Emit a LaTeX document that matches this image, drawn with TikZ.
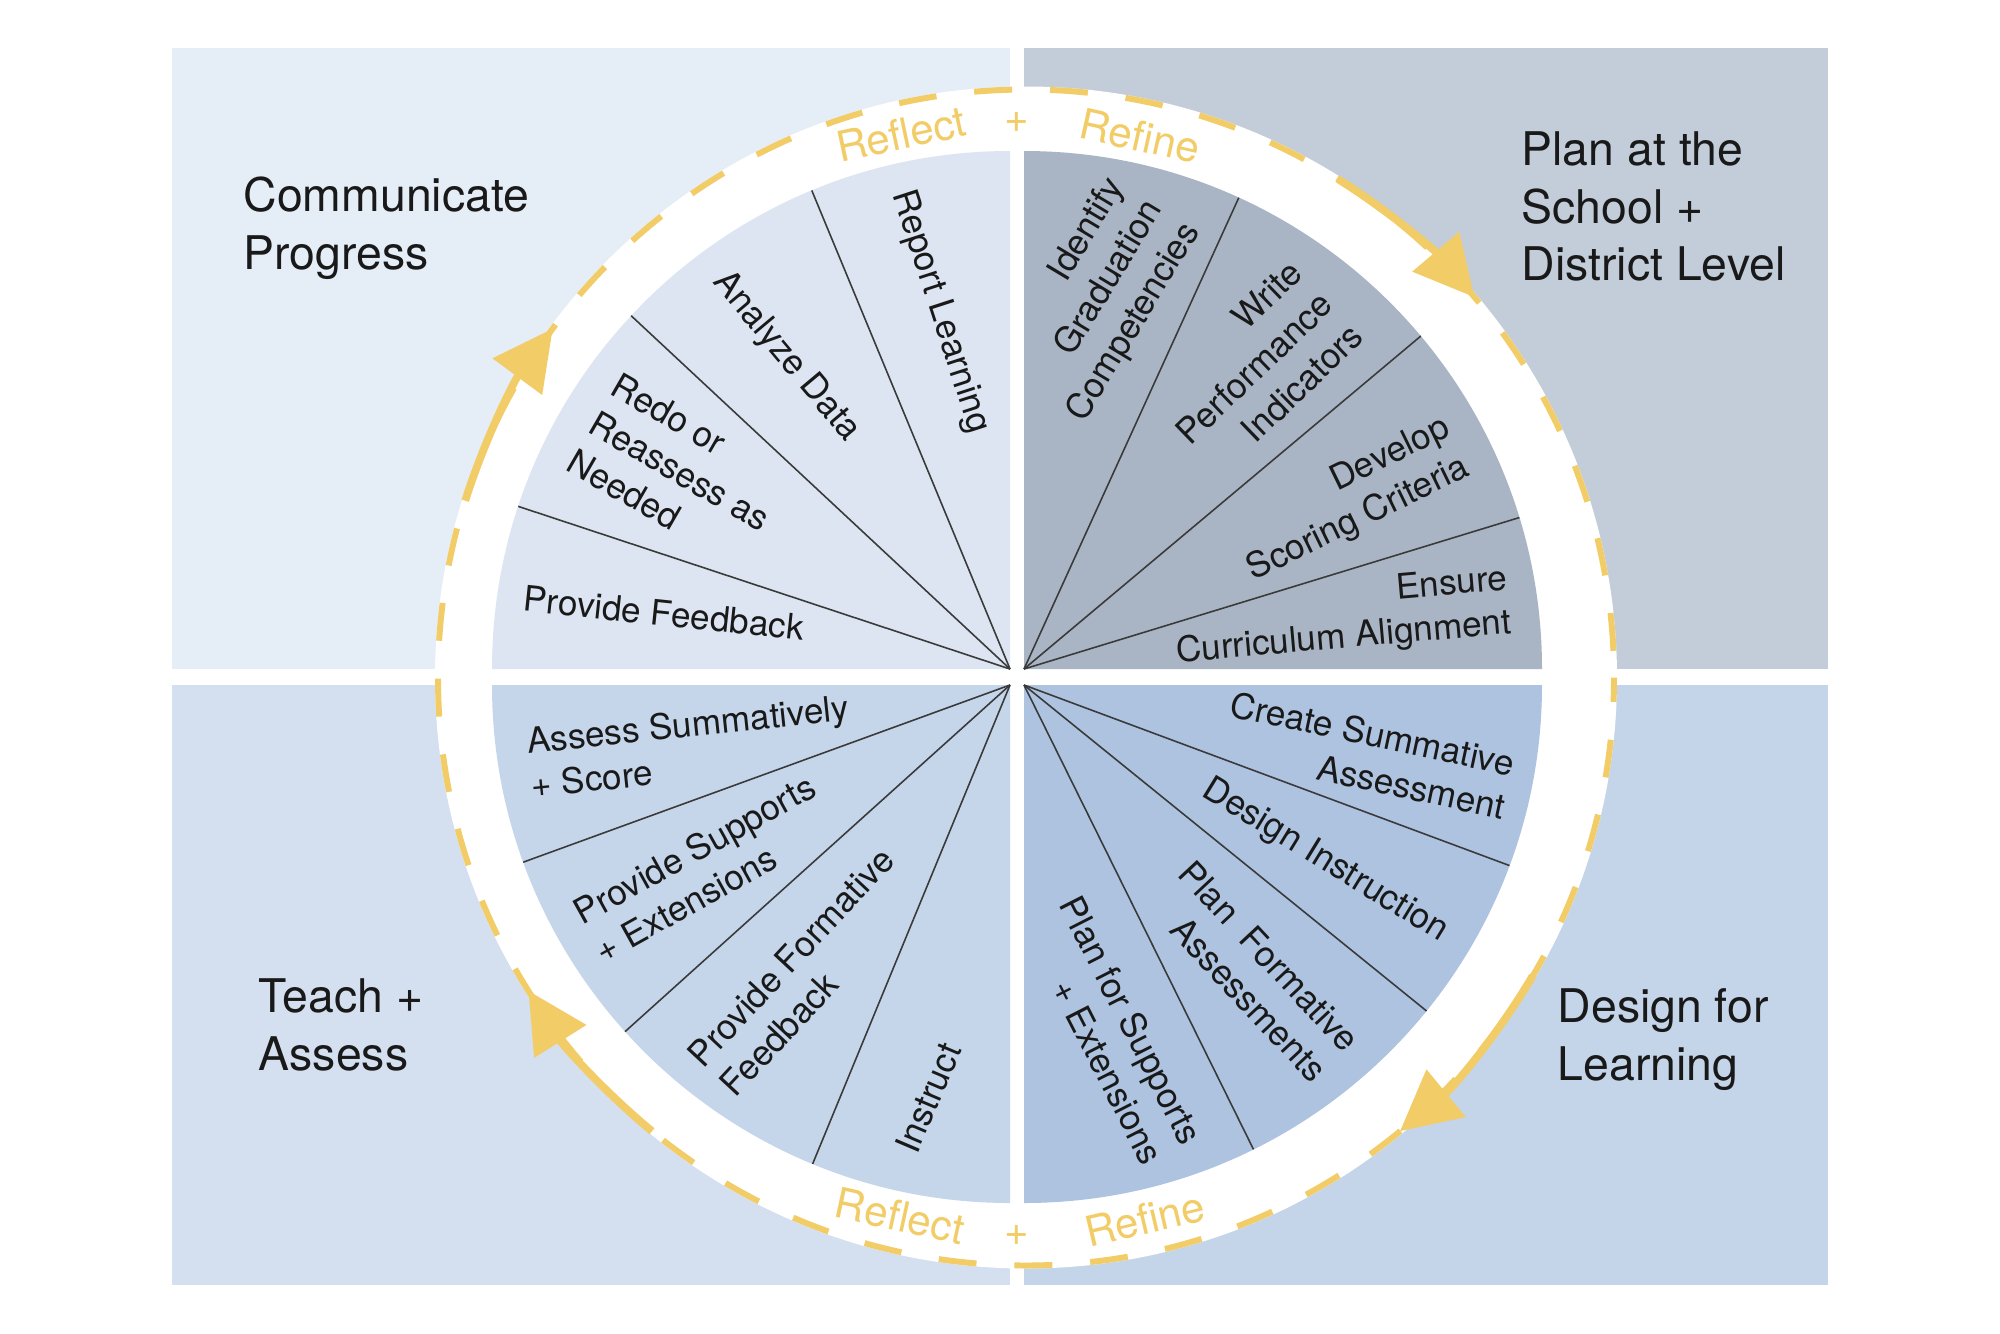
\documentclass[tikz,border=0pt]{standalone}
\usepackage{fontspec}
\setmainfont{TeX Gyre Heros}
\usepackage{xcolor}
\usepackage{tikz}
\usetikzlibrary{arrows.meta}

\definecolor{panelTL}{HTML}{E5EDF7}
\definecolor{panelTR}{HTML}{C2CDD9}
\definecolor{panelBL}{HTML}{D4E0EF}
\definecolor{panelBR}{HTML}{C5D5E9}
\definecolor{pieTL}{HTML}{DCE5F1}
\definecolor{pieTR}{HTML}{A9B5C5}
\definecolor{pieBL}{HTML}{C5D5EA}
\definecolor{pieBR}{HTML}{ADC3E0}
\definecolor{loopyellow}{HTML}{F2CC66}
\definecolor{rayline}{HTML}{3A3A3A}

\begin{document}
\begin{tikzpicture}[
		pielabel/.style={font=\fontsize{10}{12.5}\selectfont, inner sep=0pt, text=black!90},
		quadtitle/.style={font=\fontsize{13.2}{16.4}\selectfont, anchor=north west, align=left, inner sep=0pt, text=black!90},
		looptext/.style={font=\fontsize{12}{14}\selectfont, text=loopyellow, inner sep=0pt},
		ray/.style={draw=rayline, line width=0.45pt},
		loopdash/.style={draw=loopyellow, line width=1.7pt, dash pattern=on 10.8pt off 10.8pt, dash phase=14pt},
		looparrow/.style={draw=loopyellow, line width=2.2pt, -{Triangle[length=17pt, width=17pt]}}]
		\useasboundingbox (0,0) rectangle (20,-13.33);
		% Panels:
		\fill[panelTL] (1.72,-0.48) rectangle (10.10,-6.69);
		\fill[panelTR] (10.24,-0.48) rectangle (18.28,-6.69);
		\fill[panelBL] (1.72,-6.85) rectangle (10.10,-12.85);
		\fill[panelBR] (10.24,-6.85) rectangle (18.28,-12.85);
		% Ring and pie:
		\coordinate (ringC) at (10.26,-6.775);
		\fill[white] (ringC) circle[radius=5.91];
		\coordinate (apexTL) at (10.10,-6.69);
		\coordinate (apexTR) at (10.24,-6.69);
		\coordinate (apexBL) at (10.10,-6.85);
		\coordinate (apexBR) at (10.24,-6.85);
		\fill[pieTL] (apexTL) -- ++(180:5.18) arc[start angle=180, end angle=90, radius=5.18] -- cycle;
		\fill[pieTR] (apexTR) -- ++(90:5.18) arc[start angle=90, end angle=0, radius=5.18] -- cycle;
		\fill[pieBL] (apexBL) -- ++(270:5.18) arc[start angle=270, end angle=180, radius=5.18] -- cycle;
		\fill[pieBR] (apexBR) -- ++(0:5.18) arc[start angle=0, end angle=-90, radius=5.18] -- cycle;
		\draw[ray] (apexTL) -- ++(112.5:5.18);
		\draw[ray] (apexTL) -- ++(137:5.18);
		\draw[ray] (apexTL) -- ++(161.7:5.18);
		\draw[ray] (apexTR) -- ++(65.5:5.18);
		\draw[ray] (apexTR) -- ++(40:5.18);
		\draw[ray] (apexTR) -- ++(17:5.18);
		\draw[ray] (apexBL) -- ++(200:5.18);
		\draw[ray] (apexBL) -- ++(222:5.18);
		\draw[ray] (apexBL) -- ++(247.6:5.18);
		\draw[ray] (apexBR) -- ++(-20.4:5.18);
		\draw[ray] (apexBR) -- ++(-39:5.18);
		\draw[ray] (apexBR) -- ++(-63.7:5.18);
		% Loop with arrows:
		\draw[loopdash] (ringC) circle[radius=5.88];
		\draw[looparrow] ([shift={(58:5.88)}]ringC) arc[start angle=58, end angle=40.3, radius=5.88];
		\draw[looparrow] ([shift={(-30.5:5.88)}]ringC) arc[start angle=-30.5, end angle=-50.5, radius=5.88];
		\draw[looparrow] ([shift={(230.5:5.88)}]ringC) arc[start angle=230.5, end angle=212.2, radius=5.88];
		\draw[looparrow] ([shift={(162.5:5.88)}]ringC) arc[start angle=162.5, end angle=143.6, radius=5.88];
		\node[looptext, rotate=12] (reflectTop) at (9.01,-1.34) {Reflect};
		\node[looptext] (plusTop) at (10.17,-1.22) {+};
		\node[looptext, rotate=-12.5] (refineTop) at (11.40,-1.36) {Refine};
		\node[looptext, rotate=-12.3] (reflectBottom) at (9.00,-12.16) {Reflect};
		\node[looptext] (plusBottom) at (10.17,-12.35) {+};
		\node[looptext, rotate=13.3] (refineBottom) at (11.45,-12.19) {Refine};
		% Quadrant titles:
		\node[quadtitle] (communicateTitle) at (2.43,-1.76) {Communicate\\Progress};
		\node[quadtitle] (planTitle) at (15.21,-1.31) {Plan at the\\School +\\District Level};
		\node[quadtitle] (teachTitle) at (2.58,-9.78) {Teach +\\Assess};
		\node[quadtitle] (designTitle) at (15.57,-9.88) {Design for\\Learning};
		% Pie labels:
		\node[pielabel, rotate=-72] (reportLearning) at (9.40,-3.12) {Report Learning};
		\node[pielabel, rotate=-50] (analyzeData) at (7.86,-3.57) {Analyze Data};
		\node[pielabel, rotate=-30, align=left] (redoReassess) at (6.80,-4.71) {Redo or\\Reassess as\\Needed};
		\node[pielabel, rotate=-6] (provideFeedback) at (6.64,-6.13) {Provide Feedback};
		\node[pielabel, rotate=59, align=right] (identifyComp) at (10.97,-3.00) {Identify\\Graduation\\Competencies};
		\node[pielabel, rotate=44, align=right] (writeIndicators) at (12.54,-3.68) {Write\\Performance\\Indicators};
		\node[pielabel, rotate=26, align=right] (developCriteria) at (13.49,-5.00) {Develop\\Scoring Criteria};
		\node[pielabel, rotate=5, align=right] (ensureAlignment) at (13.42,-6.17) {Ensure\\Curriculum Alignment};
		\node[pielabel, rotate=6, align=left] (assessSummative) at (6.90,-7.46) {Assess Summatively\\+ Score};
		\node[pielabel, rotate=29, align=left] (provideSupports) at (7.05,-8.68) {Provide Supports\\+ Extensions};
		\node[pielabel, rotate=47, align=left] (provideFormative) at (8.07,-9.72) {Provide Formative\\Feedback};
		\node[pielabel, rotate=67] (instruct) at (9.28,-10.98) {Instruct};
		\node[pielabel, rotate=-12, align=right] (createSummative) at (13.68,-7.55) {Create Summative\\Assessment};
		\node[pielabel, rotate=-31.5] (designInstruction) at (13.25,-8.61) {Design Instruction};
		\node[pielabel, rotate=-47, align=right] (planFormative) at (12.53,-9.71) {Plan\ \ Formative\\Assessments};
		\node[pielabel, rotate=-63, align=right] (planSupports) at (11.12,-10.30) {Plan for Supports\\+ Extensions};
	\end{tikzpicture}
\end{document}
